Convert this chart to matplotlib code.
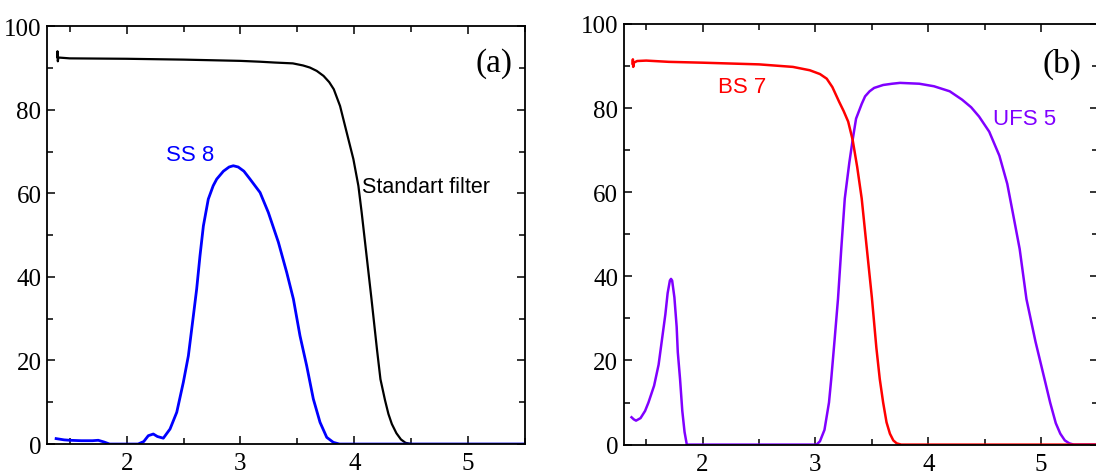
import matplotlib
matplotlib.use("Agg")
import matplotlib.pyplot as plt
from matplotlib import font_manager
from matplotlib.ticker import MultipleLocator

# (a) standard filter and SS 8
std_x = [1.39, 1.392, 1.395, 1.40, 1.45, 1.5, 2.0, 2.5, 3.0, 3.17, 3.3, 3.46, 3.55, 3.61, 3.67,
         3.73, 3.78, 3.82, 3.875, 3.933, 3.992, 4.036, 4.065, 4.1, 4.15, 4.2, 4.23, 4.27, 4.30,
         4.33, 4.37, 4.41, 4.45, 4.5, 5.5]
std_y = [92.6, 94.0, 91.6, 92.5, 92.4, 92.3, 92.2, 92.0, 91.7, 91.5, 91.3, 91.1, 90.6, 90.1, 89.3,
         88.1, 86.6, 84.9, 80.9, 74.6, 68.2, 61.8, 55.4, 47.0, 35.0, 22.5, 15.5, 10.5, 7.2,
         4.8, 2.6, 1.1, 0.3, 0.0, 0.0]

ss8_x = [1.38, 1.45, 1.5, 1.6, 1.7, 1.75, 1.8, 1.85, 2.1, 2.15, 2.19, 2.234, 2.27, 2.322, 2.381,
         2.44, 2.498, 2.542, 2.586, 2.615, 2.644, 2.674, 2.717, 2.76, 2.791, 2.85, 2.9, 2.937,
         2.98, 3.03, 3.084, 3.172, 3.245, 3.333, 3.406, 3.465, 3.523, 3.582, 3.64, 3.699, 3.758,
         3.816, 3.87, 5.5]
ss8_y = [1.3, 1.0, 0.9, 0.8, 0.8, 0.9, 0.5, 0.0, 0.0, 0.6, 2.0, 2.4, 1.8, 1.4, 3.6,
         7.6, 14.8, 21.1, 30.7, 37.1, 45.0, 52.2, 58.6, 61.8, 63.4, 65.3, 66.3, 66.6,
         66.3, 65.3, 63.4, 60.2, 55.4, 48.3, 41.1, 34.7, 25.9, 18.7, 10.8, 5.2, 1.6,
         0.4, 0.0, 0.0]

# (b) BS 7 and UFS 5
bs7_x = [1.38, 1.382, 1.385, 1.39, 1.42, 1.5, 1.7, 2.0, 2.5, 2.8, 2.95, 3.04, 3.1, 3.15, 3.21,
         3.25, 3.29, 3.33, 3.37, 3.41, 3.45, 3.5, 3.54, 3.57, 3.6, 3.63, 3.66, 3.69, 3.72, 3.76, 5.5]
bs7_y = [90.6, 91.6, 89.8, 90.8, 91.2, 91.3, 91.0, 90.8, 90.4, 89.8, 89.0, 88.1, 87.0, 85.0, 81.5,
         79.3, 76.8, 72.4, 66.0, 58.5, 48.0, 35.0, 23.0, 15.6, 10.0, 5.3, 2.6, 1.0, 0.3, 0.0, 0.0]

ufs5_x = [1.37, 1.39, 1.41, 1.45, 1.49, 1.52, 1.57, 1.61, 1.64, 1.67, 1.69, 1.71, 1.72, 1.73,
          1.75, 1.77, 1.78, 1.80, 1.82, 1.84, 1.86, 3.01, 3.04, 3.08, 3.12, 3.14, 3.17, 3.2,
          3.23, 3.26, 3.3, 3.33, 3.36, 3.41, 3.44, 3.48, 3.52, 3.6, 3.68, 3.75, 3.92, 4.05,
          4.19, 4.30, 4.38, 4.45, 4.54, 4.63, 4.7, 4.75, 4.81, 4.87, 4.95, 5.03, 5.08, 5.13,
          5.17, 5.21, 5.25, 5.29, 5.5]
ufs5_y = [6.5, 6.0, 5.7, 6.3, 8.0, 10.0, 14.0, 19.0, 25.0, 31.0, 36.0, 39.0, 39.4, 39.0,
          35.0, 28.0, 22.0, 15.6, 8.0, 3.0, 0.0, 0.0, 0.8, 3.5, 10.0, 15.6, 25.0, 34.7,
          47.0, 58.5, 67.0, 72.5, 77.5, 81.0, 82.8, 84.0, 84.8, 85.5, 85.8, 86.0, 85.8, 85.2,
          84.0, 82.0, 80.2, 78.0, 74.4, 68.7, 62.0, 55.0, 46.5, 34.6, 24.5, 15.6, 10.0, 5.1,
          2.6, 1.0, 0.3, 0.0, 0.0]

installed = {f.name for f in font_manager.fontManager.ttflist}
sans = ["Liberation Sans Narrow", "Liberation Sans"] if "Liberation Sans Narrow" in installed else ["Liberation Sans"]
serif = ["Liberation Serif", "DejaVu Serif"]

plt.rcParams["font.family"] = serif
plt.rcParams["axes.linewidth"] = 1.3

fig = plt.figure(figsize=(10.96, 4.77), dpi=100)
ax_a = fig.add_axes([0.0429, 0.067, 0.4361, 0.876])
ax_b = fig.add_axes([0.569, 0.0658, 0.4324, 0.8818])

for ax in (ax_a, ax_b):
    ax.set_xlim(1.3, 5.5)
    ax.set_ylim(0, 100)
    ax.xaxis.set_major_locator(MultipleLocator(1))
    ax.xaxis.set_minor_locator(MultipleLocator(0.5))
    ax.yaxis.set_major_locator(MultipleLocator(20))
    ax.yaxis.set_minor_locator(MultipleLocator(10))
    ax.tick_params(which="both", direction="in", top=True, right=True, width=1.1,
                   labelsize=18)
    ax.tick_params(which="major", length=6, pad=6)
    ax.tick_params(which="minor", length=4)
    ax.tick_params(axis="y", pad=4)
    ax.set_xticks([2, 3, 4, 5])

# panel (a)
ax_a.plot(std_x, std_y, color="black", lw=1.6)
ax_a.plot(ss8_x, ss8_y, color="#0000ff", lw=2.0)
ax_a.text(2.56, 69.4, "SS 8", color="#0000ff", fontsize=16, family=sans, ha="center", va="center")
ax_a.text(4.07, 61.7, "Standart filter", color="black", fontsize=15.5, family=sans, ha="left", va="center")
ax_a.text(5.39, 91.4, "(a)", fontsize=24, ha="right", va="center")

# panel (b)
ax_b.plot(ufs5_x, ufs5_y, color="#8000ff", lw=1.8)
ax_b.plot(bs7_x, bs7_y, color="#ff0000", lw=1.8)
ax_b.text(2.135, 85.1, "BS 7", color="#ff0000", fontsize=16, family=sans, ha="left", va="center")
ax_b.text(4.57, 77.5, "UFS 5", color="#8000ff", fontsize=16, family=sans, ha="left", va="center")
ax_b.text(5.36, 90.6, "(b)", fontsize=24, ha="right", va="center")

fig.savefig("out.png", dpi=100)
